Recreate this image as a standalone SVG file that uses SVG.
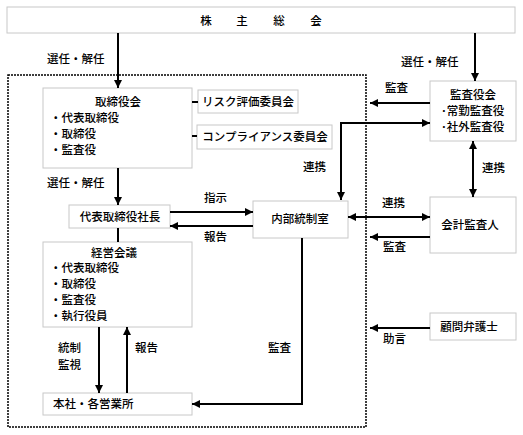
<svg xmlns="http://www.w3.org/2000/svg" width="523" height="435" viewBox="0 0 523 435">
<style>
.box{fill:#fff;stroke:#c8c8c8;stroke-width:1}
.t{font-family:"Noto Sans CJK JP","Noto Sans CJK SC",sans-serif;font-size:11.5px;font-weight:500;fill:#000}
.m{text-anchor:middle}
.c{fill:none;stroke:#000;stroke-width:2}
.d{fill:none;stroke:#000;stroke-width:1.5;stroke-dasharray:2 1}
.ln{fill:none;stroke:#000;stroke-width:2}
</style>
<defs>
<marker id="ah" viewBox="0 0 10 10" refX="10" refY="5" markerWidth="8" markerHeight="8" markerUnits="userSpaceOnUse" orient="auto-start-reverse">
<path d="M0,0 L10,5 L0,10 z" fill="#000"/>
</marker>
</defs>
<rect width="523" height="435" fill="#fff"/>
<rect id="company" class="d" x="8" y="75" width="358" height="352"/>

<g id="soukai">
<rect class="box" x="7" y="7" width="508" height="26"/>
<text class="t m" x="206 242 279 316" y="25">株主総会</text>
</g>

<g id="torishimariyakukai">
<rect class="box" x="43" y="88" width="149" height="80"/>
<text class="t m" x="118" y="106">取締役会</text>
<text class="t" x="50" y="122">・代表取締役</text>
<text class="t" x="50" y="138">・取締役</text>
<text class="t" x="50" y="154">・監査役</text>
</g>

<g id="risk">
<rect class="box" x="198" y="90" width="100" height="23"/>
<text class="t m" x="248" y="106">リスク評価委員会</text>
</g>

<g id="compliance">
<rect class="box" x="197" y="125" width="135" height="24"/>
<text class="t m" x="265" y="141">コンプライアンス委員会</text>
</g>

<g id="kansayakukai">
<rect class="box" x="430" y="81" width="86" height="60"/>
<text class="t m" x="473" y="99">監査役会</text>
<text class="t" x="441" y="115">･常勤監査役</text>
<text class="t" x="441" y="131">･社外監査役</text>
</g>

<g id="shacho">
<rect class="box" x="69" y="205" width="101" height="23"/>
<text class="t m" x="120" y="221">代表取締役社長</text>
</g>

<g id="naibu">
<rect class="box" x="253" y="201" width="95" height="37"/>
<text class="t m" x="300" y="223">内部統制室</text>
</g>

<g id="kaikei">
<rect class="box" x="430" y="197" width="86" height="56"/>
<text class="t m" x="470" y="229">会計監査人</text>
</g>

<g id="keiei">
<rect class="box" x="43" y="242" width="149" height="85"/>
<text class="t m" x="114" y="257">経営会議</text>
<text class="t" x="50" y="272">・代表取締役</text>
<text class="t" x="50" y="288">・取締役</text>
<text class="t" x="50" y="304">・監査役</text>
<text class="t" x="50" y="320">・執行役員</text>
</g>

<g id="komon">
<rect class="box" x="430" y="313" width="86" height="27"/>
<text class="t m" x="469" y="331">顧問弁護士</text>
</g>

<g id="honsha">
<rect class="box" x="43" y="393" width="149" height="22"/>
<text class="t" x="53" y="408">本社・各営業所</text>
</g>

<g id="connectors">
<line class="c" x1="118" y1="33" x2="118" y2="88" marker-end="url(#ah)"/>
<line class="c" x1="475" y1="33" x2="475" y2="81" marker-end="url(#ah)"/>
<line class="c" x1="118" y1="168" x2="118" y2="205" marker-end="url(#ah)"/>
<line class="c" x1="118" y1="228" x2="118" y2="242"/>
<line class="ln" x1="192" y1="102" x2="198" y2="102"/>
<line class="ln" x1="192" y1="136" x2="197" y2="136"/>
<line class="c" x1="170" y1="212" x2="253" y2="212" marker-end="url(#ah)"/>
<line class="c" x1="253" y1="226" x2="170" y2="226" marker-end="url(#ah)"/>
<line class="c" x1="430" y1="103" x2="370" y2="103" marker-end="url(#ah)"/>
<polyline class="c" points="430,123 341,123 341,200" marker-start="url(#ah)" marker-end="url(#ah)"/>
<line class="c" x1="473" y1="141" x2="473" y2="197" marker-start="url(#ah)" marker-end="url(#ah)"/>
<line class="c" x1="348" y1="217" x2="430" y2="217" marker-start="url(#ah)" marker-end="url(#ah)"/>
<line class="c" x1="430" y1="237" x2="370" y2="237" marker-end="url(#ah)"/>
<line class="c" x1="430" y1="328" x2="370" y2="328" marker-end="url(#ah)"/>
<line class="c" x1="99" y1="327" x2="99" y2="393" marker-end="url(#ah)"/>
<line class="c" x1="127" y1="393" x2="127" y2="327" marker-end="url(#ah)"/>
<polyline class="c" points="302,238 302,404 192,404" marker-end="url(#ah)"/>
</g>

<g id="labels">
<text class="t" x="47" y="63">選任・解任</text>
<text class="t" x="401" y="66">選任・解任</text>
<text class="t" x="47" y="187">選任・解任</text>
<text class="t" x="204" y="202">指示</text>
<text class="t" x="204" y="241">報告</text>
<text class="t" x="385" y="92">監査</text>
<text class="t" x="303" y="171">連携</text>
<text class="t" x="482" y="172">連携</text>
<text class="t" x="382" y="207">連携</text>
<text class="t" x="383" y="251">監査</text>
<text class="t" x="383" y="343">助言</text>
<text class="t" x="268" y="352">監査</text>
<text class="t" x="58" y="352">統制</text>
<text class="t" x="58" y="369">監視</text>
<text class="t" x="135" y="352">報告</text>
</g>
</svg>
